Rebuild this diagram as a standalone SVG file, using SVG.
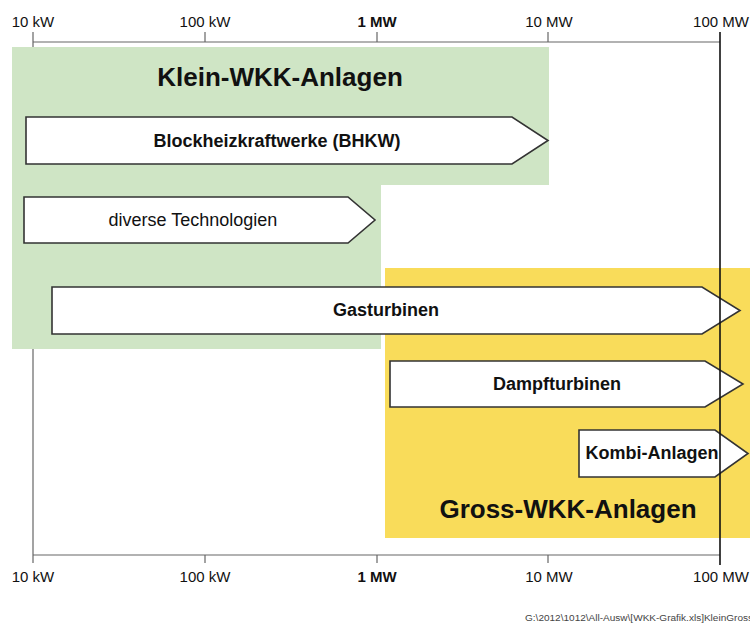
<svg xmlns="http://www.w3.org/2000/svg" width="750" height="625" viewBox="0 0 750 625">
<style>
text{font-family:"Liberation Sans",Arial,sans-serif;fill:#111}
.tick{font-size:15px;text-anchor:middle}
.title{font-size:26px;font-weight:bold;text-anchor:middle}
.lbl{font-size:18px;text-anchor:middle}
.b{font-weight:bold}
.arrow{fill:#fff;stroke:#333;stroke-width:1.6;stroke-linejoin:miter}
.axis{stroke:#666;stroke-width:1.2;fill:none}
</style>
<rect width="750" height="625" fill="#fff"/>
<g id="axes">
<line class="axis" x1="33" y1="42" x2="720" y2="42"/>
<line class="axis" x1="33" y1="555" x2="720" y2="555"/>
<line class="axis" x1="33" y1="32" x2="33" y2="563"/>
<line class="axis" x1="205" y1="32" x2="205" y2="42"/>
<line class="axis" x1="377" y1="32" x2="377" y2="42"/>
<line class="axis" x1="548" y1="32" x2="548" y2="42"/>
<line class="axis" x1="205" y1="555" x2="205" y2="563"/>
<line class="axis" x1="377" y1="555" x2="377" y2="563"/>
<line class="axis" x1="548" y1="555" x2="548" y2="563"/>
<text class="tick" x="33" y="27">10 kW</text>
<text class="tick" x="205" y="27">100 kW</text>
<text class="tick b" x="377" y="27">1 MW</text>
<text class="tick" x="549" y="27">10 MW</text>
<text class="tick" x="721" y="27">100 MW</text>
<text class="tick" x="33" y="582">10 kW</text>
<text class="tick" x="205" y="582">100 kW</text>
<text class="tick b" x="377" y="582">1 MW</text>
<text class="tick" x="549" y="582">10 MW</text>
<text class="tick" x="721" y="582">100 MW</text>
</g>
<g id="klein">
<path d="M12,47 H549 V185 H381 V349 H12 Z" fill="#cfe5c5"/>
<text class="title" x="280" y="86">Klein-WKK-Anlagen</text>
</g>
<g id="gross">
<rect x="385" y="268" width="365" height="270" fill="#f9dc5a"/>
<text class="title" x="568" y="518">Gross-WKK-Anlagen</text>
</g>
<g id="bhkw">
<path class="arrow" d="M26,117 H512 L548,140.5 L512,164 H26 Z"/>
<text class="lbl b" x="277" y="147">Blockheizkraftwerke (BHKW)</text>
</g>
<g id="diverse">
<path class="arrow" d="M24,197 H348 L375,220 L348,243 H24 Z"/>
<text class="lbl" x="193" y="226">diverse Technologien</text>
</g>
<g id="gasturbinen">
<path class="arrow" d="M52,287 H702 L740,310.5 L702,334 H52 Z"/>
<text class="lbl b" x="386" y="316">Gasturbinen</text>
</g>
<g id="dampfturbinen">
<path class="arrow" d="M390,361 H705 L743,384 L705,407 H390 Z"/>
<text class="lbl b" x="557" y="390">Dampfturbinen</text>
</g>
<g id="kombi">
<path class="arrow" d="M579,430 H715 L748,453.5 L715,477 H579 Z"/>
<text class="lbl b" x="652" y="459">Kombi-Anlagen</text>
</g>
<g id="connectors">
<line x1="720" y1="32" x2="720" y2="565" stroke="#111" stroke-width="1.6"/>
</g>
<text x="525" y="621" textLength="228" lengthAdjust="spacingAndGlyphs" style="font-size:8.5px;fill:#444">G:\2012\1012\All-Ausw\[WKK-Grafik.xls]KleinGross</text>
</svg>
